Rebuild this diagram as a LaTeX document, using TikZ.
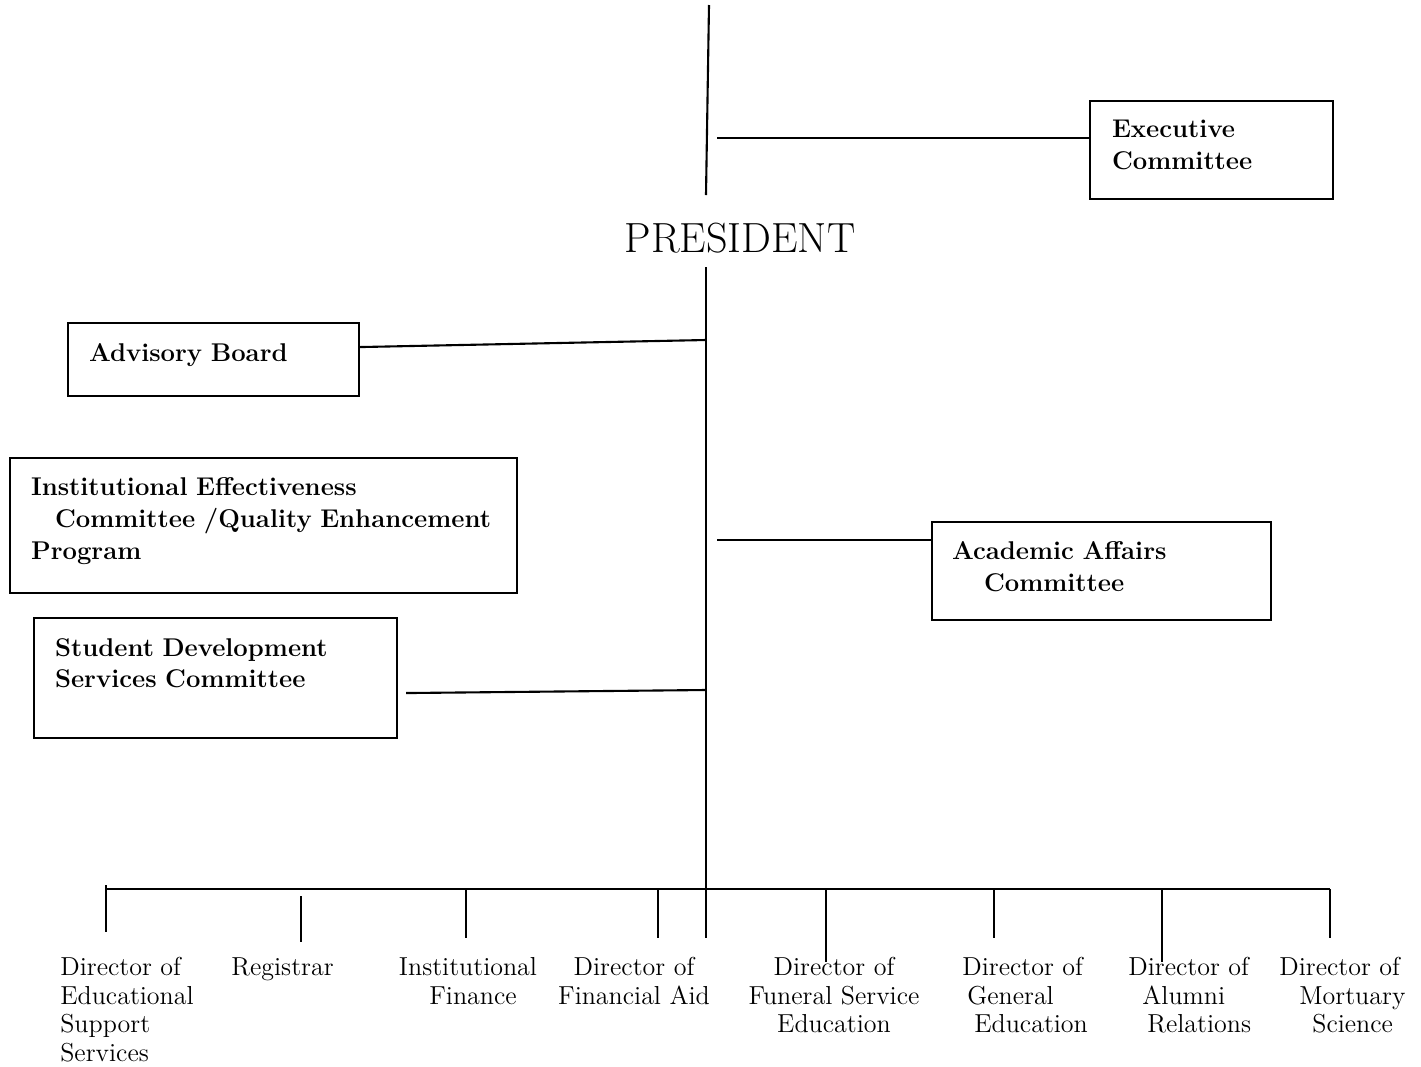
\documentclass[tikz,border=0pt]{standalone}
\usepackage{tikz}

\begin{document}
\begin{tikzpicture}[x=0.02cm,y=-0.02cm,
		boxnode/.style={draw, line width=1.2pt, rectangle, anchor=north west,
			align=left, inner ysep=0pt, font=\fontsize{14.6}{18.2}\selectfont\bfseries},
		staff/.style={inner sep=0pt, font=\fontsize{14.8}{16.3}\selectfont},
		link/.style={line width=1.2pt}]
		 %\draw[help lines] (0,0) grid[step=100] (1421,1066);
		 \useasboundingbox (0,0) rectangle (1421,1066);
		 
		 % spine
		 \coordinate (crown) at (709,5);
		 \coordinate (neck) at (706,195);
		 \coordinate (waist) at (706,267);
		 \coordinate (foot) at (706,938);
		 \node[font=\fontsize{24}{28}\selectfont, inner sep=0pt] (pres) at (740,238) {PRESIDENT};
		 \draw[link] (crown) -- (neck);
		 \draw[link] (waist) -- (foot);
		 
		 % committees
		 \node[boxnode, minimum width=4.86cm, minimum height=1.96cm,
		 	text width=3.98cm, inner xsep=0.44cm] (exec) at (1089,100)
		 	{Executive\\Committee\rule[-0.2cm]{0pt}{0pt}};
		 \node[boxnode, minimum width=5.82cm, minimum height=1.46cm,
		 	text width=4.98cm, inner xsep=0.42cm] (adv) at (67,322)
		 	{Advisory Board\rule[-0.3cm]{0pt}{0pt}};
		 \node[boxnode, minimum width=10.14cm, minimum height=2.70cm,
		 	text width=9.30cm, inner xsep=0.42cm] (iec) at (9,457)
		 	{Institutional Effectiveness\\
		 	\hspace*{0.48cm}Committee /Quality Enhancement\\
		 	Program\rule[-0.3cm]{0pt}{0pt}};
		 \node[boxnode, minimum width=7.26cm, minimum height=2.40cm,
		 	text width=6.42cm, inner xsep=0.42cm] (sds) at (33,617)
		 	{Student Development\\Services Committee\rule[-0.6cm]{0pt}{0pt}};
		 \node[boxnode, minimum width=6.78cm, minimum height=1.96cm,
		 	text width=5.98cm, inner xsep=0.40cm] (acad) at (931,521)
		 	{Academic Affairs\\\hspace*{0.64cm}Committee\rule[-0.2cm]{0pt}{0pt}};
		 
		 \coordinate (ex) at (717,138);
		 \coordinate (ac) at (717,540);
		 \coordinate (j1) at (706,340);
		 \coordinate (j2) at (706,690);
		 \draw[link] (ex) -- (exec.west |- ex);
		 \draw[link] (ac) -- (acad.west |- ac);
		 \draw[link] ([yshift=0.25cm]adv.east) -- (j1);
		 \draw[link] ([xshift=0.16cm,yshift=-0.3cm]sds.east) -- (j2);
		 
		 % directors
		 \coordinate (bar west) at (106,889);
		 \coordinate (bar east) at (1330,889);
		 \draw[link] (bar west) -- (bar east);
		 \foreach \n/\x/\a/\b in {ess/106/885/932, reg/301/896/942, fin/466/889/938,
		 	aid/658/889/938, fse/826/889/962, gen/994/889/938, alu/1162/889/962,
		 	mor/1330/889/938}{
		 	\coordinate (\n-a) at (\x,\a);
		 	\coordinate (\n-b) at (\x,\b);
		 	\draw[link] (\n-a) -- (\n-b);
		 }
		 
		 \node[staff, anchor=north west, align=left] (ess) at (60,957)
		 	{Director of\\Educational\\Support\\Services};
		 \node[staff, anchor=north west] (reg) at (231,957) {Registrar};
		 \node[staff, anchor=north, align=center] (fin) at (468,957)
		 	{Institutional\\\hspace*{0.2cm}Finance};
		 \node[staff, anchor=north, align=center] (aid) at (634,957)
		 	{Director of\\Financial Aid};
		 \node[staff, anchor=north, align=center] (fse) at (834,957)
		 	{Director of\\Funeral Service\\Education};
		 \node[staff, anchor=north west, align=left] (gen) at (962,957)
		 	{Director of\\\hspace*{0.1cm}General\\\hspace*{0.24cm}Education};
		 \node[staff, anchor=north west, align=left] (alu) at (1128,957)
		 	{Director of\\\hspace*{0.28cm}Alumni\\\hspace*{0.38cm}Relations};
		 \node[staff, anchor=north west, align=left] (mor) at (1279,957)
		 	{Director of\\\hspace*{0.40cm}Mortuary\\\hspace*{0.66cm}Science};
\end{tikzpicture}
\end{document}
